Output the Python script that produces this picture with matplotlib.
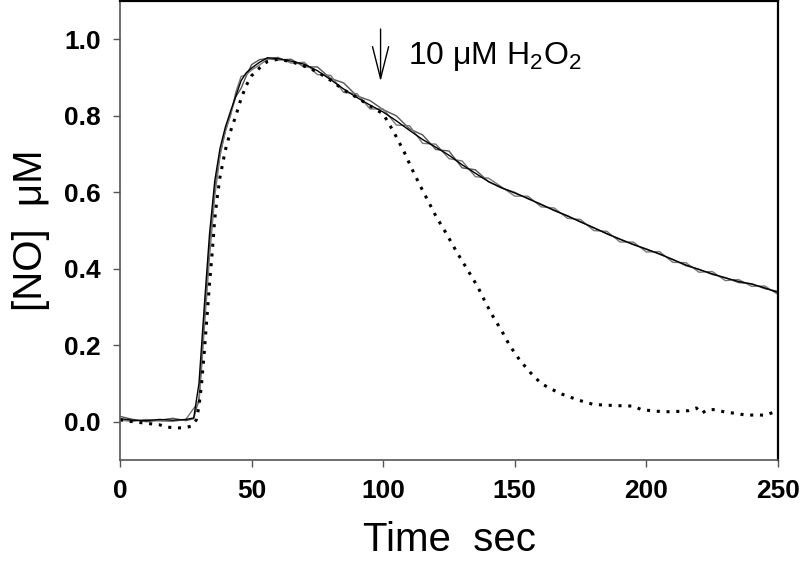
#NO decay traces with and without H2O2 (three controls + one treated)

import matplotlib
matplotlib.use('Agg')
import matplotlib.pyplot as plt
from matplotlib.ticker import FormatStrFormatter

plt.rcParams['font.family'] = ['Liberation Sans', 'DejaVu Sans']
plt.rcParams['mathtext.fontset'] = 'custom'
plt.rcParams['mathtext.rm'] = 'Liberation Sans'
plt.rcParams['mathtext.default'] = 'regular'

# time grid of the solid (control) traces, sec
t_ctrl = [0, 5, 10, 15, 20, 25, 28, 30, 31, 32,
          34, 36, 38, 40, 42, 44, 46, 48, 50, 53,
          56, 60, 65, 70, 75, 80, 85, 90, 95, 100,
          105, 110, 115, 120, 125, 130, 135, 140, 145, 150,
          155, 160, 165, 170, 175, 180, 185, 190, 195, 200,
          205, 210, 215, 220, 225, 230, 235, 240, 245, 250]

# [NO] uM, black control trace
no_a = [0.008, 0.004, 0.003, 0.006, 0.004, 0.006, 0.010, 0.100, 0.200, 0.300,
        0.490, 0.630, 0.715, 0.770, 0.812, 0.852, 0.892, 0.913, 0.925, 0.940,
        0.952, 0.950, 0.943, 0.935, 0.918, 0.895, 0.870, 0.848, 0.828, 0.810,
        0.787, 0.762, 0.738, 0.718, 0.697, 0.672, 0.650, 0.628, 0.612, 0.598,
        0.584, 0.568, 0.553, 0.538, 0.523, 0.507, 0.492, 0.477, 0.464, 0.451,
        0.439, 0.424, 0.410, 0.398, 0.387, 0.376, 0.367, 0.360, 0.350, 0.338]

# grey control traces
no_b = [0.014, 0.006, 0.000, 0.004, 0.009, 0.003, 0.008, 0.060, 0.160, 0.270,
        0.460, 0.610, 0.700, 0.758, 0.805, 0.850, 0.872, 0.905, 0.934, 0.947,
        0.950, 0.946, 0.948, 0.928, 0.928, 0.898, 0.886, 0.852, 0.840, 0.816,
        0.800, 0.766, 0.750, 0.712, 0.708, 0.664, 0.659, 0.628, 0.611, 0.600,
        0.583, 0.569, 0.552, 0.539, 0.522, 0.508, 0.491, 0.478, 0.463, 0.452,
        0.438, 0.425, 0.408, 0.399, 0.385, 0.377, 0.364, 0.361, 0.348, 0.341]

no_c = [0.004, 0.001, 0.006, 0.002, 0.001, 0.006, 0.035, 0.050, 0.140, 0.240,
        0.430, 0.590, 0.695, 0.762, 0.800, 0.862, 0.903, 0.908, 0.920, 0.933,
        0.948, 0.953, 0.938, 0.940, 0.908, 0.906, 0.861, 0.858, 0.818, 0.818,
        0.776, 0.774, 0.728, 0.726, 0.688, 0.682, 0.641, 0.637, 0.614, 0.590,
        0.590, 0.562, 0.559, 0.532, 0.529, 0.500, 0.498, 0.470, 0.470, 0.444,
        0.445, 0.417, 0.416, 0.391, 0.393, 0.369, 0.372, 0.354, 0.355, 0.333]

# dotted trace, H2O2 added at ~100 s
t_h2o2 = [0, 5, 10, 15, 18, 21, 24, 27, 29, 30,
          31, 32, 33, 34, 35, 36, 37, 38, 40, 42,
          44, 46, 48, 50, 53, 56, 60, 65, 70, 75,
          80, 85, 90, 95, 100, 104, 108, 111, 114, 117,
          120, 124, 128, 132, 136, 139, 142, 145, 148, 152,
          156, 160, 164, 168, 174, 180, 186, 190, 195, 198,
          203, 207, 212, 216, 219, 221, 223, 226, 230, 234,
          238, 242, 245, 248, 250]
no_h2o2 = [0.005, 0.0, -0.004, -0.008, -0.014, -0.016, -0.016, -0.012, 0.005, 0.04,
           0.10, 0.18, 0.27, 0.36, 0.44, 0.53, 0.59, 0.64, 0.71, 0.76,
           0.80, 0.845, 0.88, 0.905, 0.925, 0.942, 0.948, 0.942, 0.93, 0.915,
           0.893, 0.868, 0.848, 0.826, 0.805, 0.758, 0.705, 0.660, 0.618, 0.578,
           0.538, 0.492, 0.443, 0.398, 0.352, 0.31, 0.272, 0.238, 0.20, 0.16,
           0.128, 0.10, 0.085, 0.072, 0.057, 0.045, 0.043, 0.042, 0.041, 0.032,
           0.028, 0.026, 0.027, 0.029, 0.036, 0.022, 0.031, 0.032, 0.025, 0.022,
           0.017, 0.018, 0.017, 0.024, 0.022]

x_ticks = [0, 50, 100, 150, 200, 250]
y_ticks = [0.0, 0.2, 0.4, 0.6, 0.8, 1.0]

fig = plt.figure(figsize=(8, 5.7), dpi=100)
ax = fig.add_axes([0.15, 0.193, 0.8225, 0.805])

ax.plot(t_ctrl, no_b, color='#555555', lw=1.0)
ax.plot(t_ctrl, no_c, color='#777777', lw=1.0)
ax.plot(t_ctrl, no_a, color='black', lw=1.0)
ax.plot(t_h2o2, no_h2o2, color='black', lw=2.2, linestyle=(0, (1, 2.2)))

ax.set_xlim(0, 250)
ax.set_ylim(-0.1, 1.1)
ax.set_xticks(x_ticks)
ax.set_yticks(y_ticks)
ax.yaxis.set_major_formatter(FormatStrFormatter('%.1f'))

ax.tick_params(direction='out', length=5, width=1, color='#555555', pad=9)
for lab in ax.get_xticklabels() + ax.get_yticklabels():
    lab.set_fontweight('bold')
    lab.set_fontsize(19)

for side in ['left', 'bottom']:
    ax.spines[side].set_color('#555555')
    ax.spines[side].set_linewidth(1.2)
for side in ['top', 'right']:
    ax.spines[side].set_color('black')
    ax.spines[side].set_linewidth(1.6)

ax.set_xlabel('Time  sec', fontsize=29, labelpad=13)
ax.set_ylabel('[NO]  \u03bcM', fontsize=29, labelpad=10)

# H2O2 addition marker
ax.annotate('', xy=(99, 0.89), xytext=(99, 1.027),
            arrowprops=dict(arrowstyle='->, head_length=2.3, head_width=0.58',
                            lw=1, color='black', mutation_scale=10,
                            shrinkA=0, shrinkB=0))
ax.text(109.5, 0.935, '10 \u03bcM H$_2$O$_2$', fontsize=23, ha='left', va='baseline')

fig.savefig('out.png', dpi=100)
